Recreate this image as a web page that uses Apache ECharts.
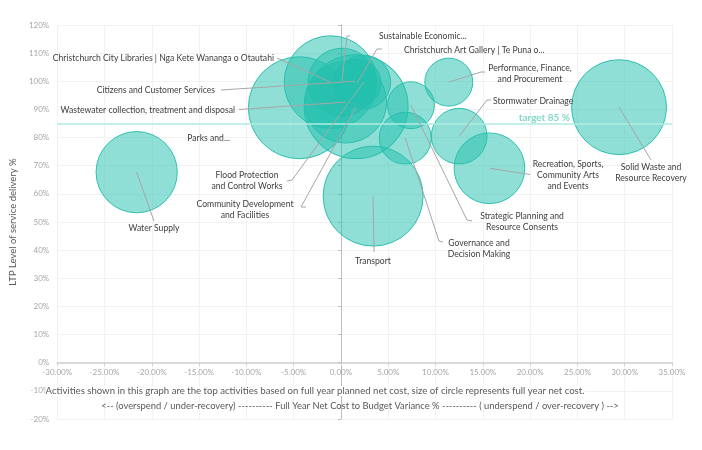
<!DOCTYPE html>
<html>
<head>
<meta charset="utf-8">
<script src="https://cdn.jsdelivr.net/npm/echarts@6/dist/echarts.min.js"></script>
<style>
html,body{margin:0;padding:0;background:#fff;}
#chart{width:702px;height:450px;}
</style>
</head>
<body>
<div id="chart"></div>
<script>
// ---- Data ----
const activityLabels = [
  'Parks and...',
  'Community Development\nand Facilities',
  'Transport',
  'Solid Waste and\nResource Recovery',
  'Christchurch City Libraries | Nga Kete Wananga o Otautahi',
  'Wastewater collection, treatment and disposal',
  'Water Supply',
  'Recreation, Sports,\nCommunity Arts\nand Events',
  'Sustainable Economic...',
  'Flood Protection\nand Control Works',
  'Stormwater Drainage',
  'Governance and\nDecision Making',
  'Performance, Finance,\nand Procurement',
  'Strategic Planning and\nResource Consents',
  'Christchurch Art Gallery | Te Puna o...',
  'Citizens and Customer Services'
];
// Full Year Net Cost to Budget Variance %
const budgetVariance = [-4.4, 1.6, 3.4, 29.4, -1.1, 0.5, -21.6, 15.7, 0.1, 2.4, 12.5, 6.8, 11.4, 7.4, 1.7, 1.5];
// LTP Level of service delivery %
const serviceDelivery = [90.6, 91.0, 59.2, 90.8, 99.7, 92.6, 67.7, 69.1, 99.7, 99.7, 80.5, 79.8, 99.7, 91.5, 99.3, 100.0];
// Full year net cost (relative, bubble area)
const netCost = [104, 108, 100, 90, 86, 67, 66, 50, 46, 29, 31, 27, 23, 22, 23, 19];
const targetLevel = 85;
const xTickMin = -30, xTickMax = 35, xTickStep = 5;
const yTickMin = -20, yTickMax = 120, yTickStep = 10;

// ---- Label placement (layout only) ----
const labelPlacement = [
  {x:230, y:138, align:'right', hook:null},
  {x:245, y:209.5, align:'center', hook:[[306,207],[301,207]]},
  {x:373, y:261, align:'center', hook:[[374,252]]},
  {x:651, y:172.5, align:'center', hook:[[651,160]]},
  {x:274, y:58, align:'right', hook:[[277,58]]},
  {x:235, y:110, align:'right', hook:[[239,109.5]]},
  {x:154, y:228.5, align:'center', hook:[[154,221]]},
  {x:568, y:175, align:'center', hook:[[530,174.5]]},
  {x:379, y:36, align:'left', hook:[[350,36],[347,36]]},
  {x:247, y:180.5, align:'center', hook:[[287,181],[292,180]]},
  {x:493, y:101.5, align:'left', hook:[[491,100],[487,100]]},
  {x:479, y:248.5, align:'center', hook:[[443,242],[439,241]]},
  {x:530, y:73.5, align:'center', hook:[[485,72],[481,72]]},
  {x:522, y:222, align:'center', hook:[[472,221],[467,220]]},
  {x:404, y:50, align:'left', hook:[[382,49],[377,49]]},
  {x:215, y:90, align:'right', hook:[[221,90]]}
];

const bubbleData = budgetVariance.map((v, i) => [v, serviceDelivery[i], netCost[i], activityLabels[i]]);

const chart = echarts.init(document.getElementById('chart'), null, {renderer:'canvas'});
const labelFont = '8.6px Lato, "Open Sans", sans-serif';

const option = {
  animation: false,
  backgroundColor: '#ffffff',
  grid: {left: 45, right: 30, top: 25, bottom: 31, containLabel: false},
  xAxis: {
    type: 'value', min: xTickMin, max: xTickMax, interval: xTickStep, position: 'bottom', offset: 0,
    axisLine: {show: true, onZero: false, lineStyle: {color: '#cfcfcf', width: 1.5}},
    axisTick: {show: true, length: 3, lineStyle: {color: '#cfcfcf'}},
    axisLabel: {color: '#a6a6a6', fontSize: 8, fontFamily: 'Lato, sans-serif', margin: 6,
      formatter: v => v.toFixed(2) + '%'},
    splitLine: {show: true, lineStyle: {color: '#f2f2f2', width: 1}}
  },
  yAxis: [{
    type: 'value', min: yTickMin, max: yTickMax, interval: yTickStep,
    axisLine: {show: false, onZero: false},
    axisTick: {show: false},
    axisLabel: {color: '#a6a6a6', fontSize: 8, fontFamily: 'Lato, sans-serif', margin: 8,
      formatter: '{value}%'},
    splitLine: {show: true, lineStyle: {color: '#f2f2f2', width: 1}},
    name: 'LTP Level of service delivery %',
    nameLocation: 'middle', nameGap: 31, nameRotate: 90,
    nameTextStyle: {color: '#595959', fontSize: 9.5, fontFamily: 'Lato, sans-serif'}
  }, {
    type: 'value', min: yTickMin, max: yTickMax, interval: yTickStep, position: 'left',
    axisLine: {show: true, onZero: true, onZeroAxisIndex: 0, lineStyle: {color: '#bfbfbf', width: 1}},
    axisTick: {show: true, length: 3, lineStyle: {color: '#bfbfbf'}},
    axisLabel: {show: false},
    splitLine: {show: false}
  }],
  graphic: [
    {type: 'text', z: 100, style: {
      text: 'Activities shown in this graph are the top activities based on full year planned net cost, size of circle represents full year net cost.',
      x: 315, y: 391, align: 'center', verticalAlign: 'middle', fill: '#595959',
      font: '9.6px Lato, sans-serif', backgroundColor: '#ffffff'}},
    {type: 'text', z: 100, style: {
      text: '<-- (overspend / under-recovery) ---------- Full Year Net Cost to Budget Variance % ---------- ( underspend / over-recovery ) -->',
      x: 360, y: 406, align: 'center', verticalAlign: 'middle', fill: '#595959',
      font: '9.4px Lato, sans-serif'}}
  ],
  series: [{
    type: 'scatter',
    xAxisIndex: 0, yAxisIndex: 0,
    data: bubbleData,
    symbolSize: v => 10 * Math.sqrt(v[2]),
    itemStyle: {color: 'rgba(34,192,174,0.5)', borderColor: 'rgba(38,190,172,0.95)', borderWidth: 1, opacity: 1},
    z: 2,
    silent: true,
    markLine: {
      silent: true, symbol: 'none', animation: false,
      lineStyle: {color: '#b2ebe2', width: 1.5, type: 'solid'},
      label: {show: true, position: 'insideEndTop', formatter: 'target 85 %', color: '#82d9cc',
        fontWeight: 'bold', fontSize: 10, fontFamily: 'Lato, sans-serif', distance: 1, padding: [0, 101, 0, 0]},
      data: [{yAxis: targetLevel}]
    }
  }, {
    type: 'custom',
    xAxisIndex: 0, yAxisIndex: 0,
    data: bubbleData,
    clip: false,
    z: 5,
    silent: true,
    renderItem: function (params, api) {
      const i = params.dataIndex;
      const c = api.coord([api.value(0), api.value(1)]);
      const p = labelPlacement[i];
      const children = [];
      if (p.hook) {
        children.push({type: 'polyline', shape: {points: p.hook.concat([c])},
          style: {stroke: '#a6a6a6', lineWidth: 1, fill: null}});
      }
      children.push({type: 'text', x: p.x, y: p.y, style: {
        text: activityLabels[i], align: p.align, verticalAlign: 'middle',
        fill: '#404040', font: labelFont, lineHeight: 11}});
      return {type: 'group', children: children};
    }
  }]
};
chart.setOption(option);
// Put the x axis (line + labels) on the 0% level, using the chart's own y scale
const zeroY = chart.convertToPixel({yAxisIndex: 0}, 0);
const bottomY = chart.convertToPixel({yAxisIndex: 0}, yTickMin);
chart.setOption({xAxis: {offset: zeroY - bottomY}});
</script>
</body>
</html>
